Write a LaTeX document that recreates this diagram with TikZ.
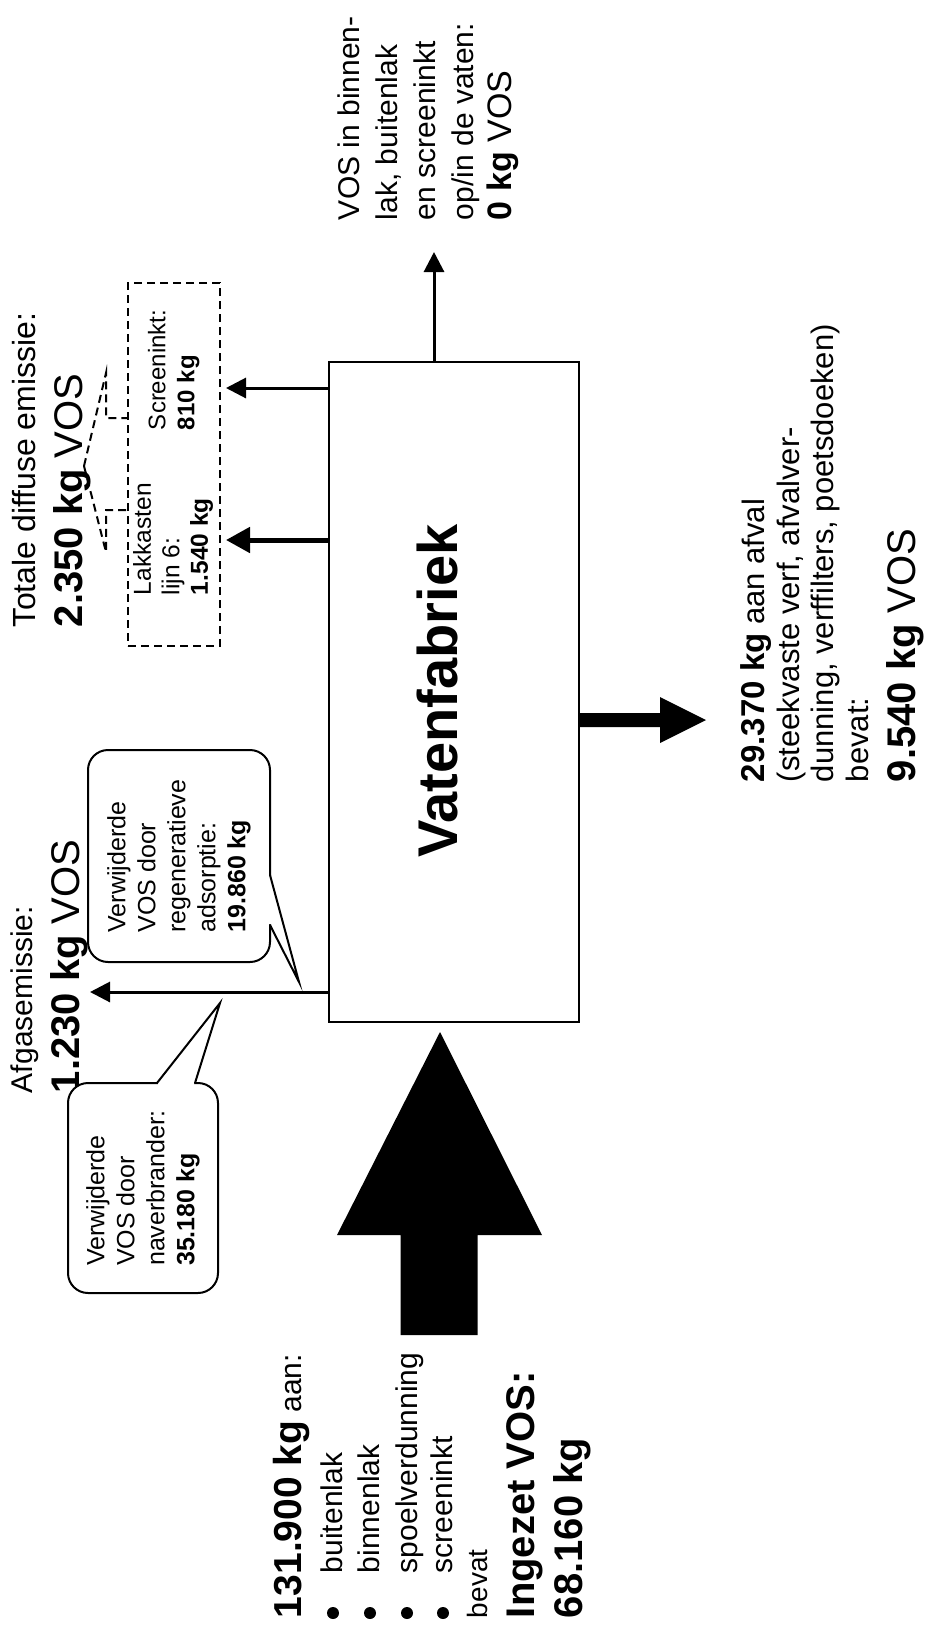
\documentclass[tikz,border=0pt]{standalone}
\usepackage{fontspec}
\setmainfont{Liberation Sans}
\usetikzlibrary{arrows.meta}
\newcommand{\myfs}[2]{\fontsize{#1}{#2}\selectfont}
\tikzset{
  txt/.style={rotate=90, anchor=north west, inner sep=0pt, outer sep=0pt, align=left},
  thinarr/.style={line width=3pt, -{Triangle[length=20pt,width=20pt]}},
  thickarr/.style={line width=5pt, -{Triangle[length=24pt,width=25pt]}},
  dline/.style={line width=2pt, dash pattern=on 8pt off 5pt},
  bubble/.style={draw, line width=2pt, rounded corners=20pt, rotate=90, fill=white, align=left, inner sep=0pt, outer sep=0pt, font=\myfs{25}{30}},
  mainbox/.style={draw, line width=2pt, outer sep=0pt, inner sep=0pt},
  ptr/.style={line width=2pt, line join=miter},
}
\begin{document}
\begin{tikzpicture}[x=1pt, y=-1pt]
\fill[white] (0,0) rectangle (926,1628);
\useasboundingbox (0,0) rectangle (926,1628);

% main box
\node[mainbox, minimum width=250pt, minimum height=660pt] (fab) at (454,692) {};
\node[rotate=90, inner sep=0pt, font=\myfs{56}{56}\bfseries] (fabtxt) at (437,691) {Vatenfabriek};

% top output
\coordinate (vosend) at (434,252);
\draw[thinarr] (fab.north -| vosend) -- (vosend);
\node[txt, font=\myfs{30}{38}] (vostxt) at (338,220) {VOS in binnen-\\lak, buitenlak\\en screeninkt\\op/in de vaten:\\{\myfs{34}{38}\textbf{0 kg} VOS}};

% diffuse emission
\node[draw, dline, minimum width=92pt, minimum height=363pt, inner sep=0pt, outer sep=0pt] (diffbox) at (174,464.5) {};
\coordinate (d1) at (226,388);
\coordinate (d2) at (226,540);
\draw[thinarr] (fab.west |- d1) -- (d1);
\draw[thickarr] (fab.west |- d2) -- (d2);
\node[txt, font=\myfs{24}{29}] (scrtxt) at (148,430) {Screeninkt:\\\textbf{810 kg}};
\node[txt, font=\myfs{24.5}{28.5}] (laktxt) at (133,595) {Lakkasten\\lijn 6:\\\textbf{1.540 kg}};
\node[txt, font=\myfs{32}{47}] (difftxt) at (12,627) {Totale diffuse emissie:\\{\myfs{40}{47}\textbf{2.350 kg} VOS}};
\coordinate (kg) at (84,466);
\draw[dline] (kg) -- (106,373) -- (106,418) -- (diffbox.west |- 0,418);
\draw[dline] (kg) -- (106,552) -- (106,510) -- (diffbox.west |- 0,510);

% flue gas emission
\coordinate (afgend) at (90,992);
\draw[thinarr] (fab.west |- afgend) -- (afgend);
\node[txt, font=\myfs{30}{47}] (afgtxt) at (11,1093) {Afgasemissie:\\{\myfs{40}{47}\textbf{1.230 kg} VOS}};

% callout 1
\node[bubble, minimum width=212pt, minimum height=182pt] (cb1) at (179,856) {Verwijderde\\VOS door\\regeneratieve\\adsorptie:\\\textbf{19.860 kg}};
\coordinate (c1tip) at (299,982);
\fill[white] (264,876) -- (272,876) -- (c1tip) -- (272,924) -- (264,924) -- cycle;
\draw[ptr] (cb1.south |- 0,875) -- (c1tip) -- (cb1.south |- 0,925);

% callout 2
\node[bubble, minimum width=210pt, minimum height=150pt] (cb2) at (143,1188) {Verwijderde\\VOS door\\naverbrander:\\\textbf{35.180 kg}};
\coordinate (c2tip) at (220,1003);
\fill[white] (158,1089) -- (158,1081.5) -- (c2tip) -- (194,1081.5) -- (194,1089) -- cycle;
\draw[ptr] (cb2.east -| 157,0) -- (c2tip) -- (cb2.east -| 195,0);

% waste output
\coordinate (wst) at (706,720);
\fill (fab.east |- wst) ++(0,-7) -- ++(81,0) -- ++(0,-16) -- (wst) -- ++(-46,23) -- ++(0,-16) -- ++(-81,0) -- cycle;
\node[txt, font=\myfs{31}{34.5}] (wsttxt) at (741,782) {{\myfs{33}{34.5}\textbf{29.370 kg}} aan afval\\(steekvaste verf, afvalver-\\dunning, verffilters, poetsdoeken)\\bevat:\\[12.5pt]{\myfs{40}{47}\textbf{9.540 kg} VOS}};

% input
\coordinate (intip) at (440,1032);
\coordinate (inbot) at (439,1335);
\fill (inbot) ++(-38.5,0) -- ++(0,-100) -- ++(-63.5,0) -- (intip) -- ++(102,203) -- ++(-64.5,0) -- ++(0,100) -- cycle;
\node[txt, font=\myfs{30}{37}] (intxt) at (273.5,1618) {{\myfs{39}{37}\textbf{131.900 kg}} aan:\\[4pt]\hspace*{45pt}buitenlak\\\hspace*{45pt}binnenlak\\[1pt]\hspace*{45pt}spoelverdunning\\[-2pt]\hspace*{45pt}screeninkt\\[-2pt]{\myfs{28}{37}bevat}\\[10pt]{\myfs{40}{37}\textbf{Ingezet VOS:}}\\[9pt]{\myfs{40}{37}\textbf{68.160 kg}}};
\foreach \bx in {333,370,407,443} \fill (\bx,1613) circle[radius=6pt];
\end{tikzpicture}
\end{document}
